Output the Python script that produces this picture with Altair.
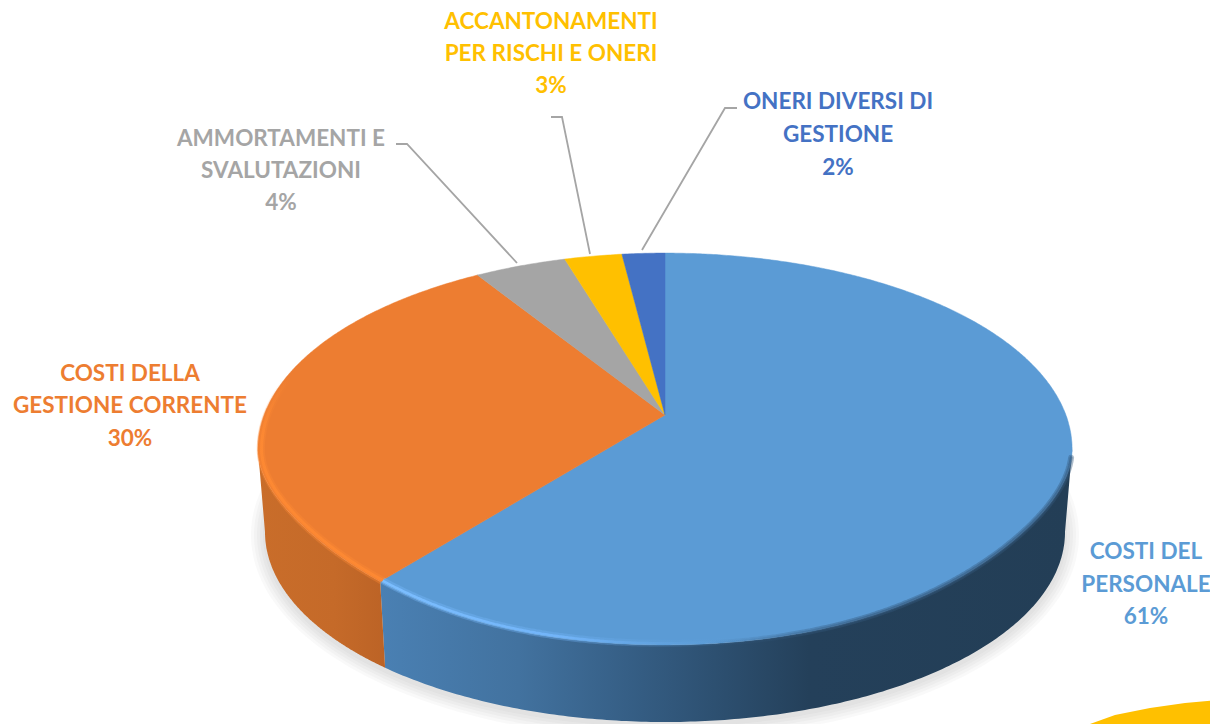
import numpy as np
import altair as alt

# ---- data
categories = ["COSTI DEL PERSONALE", "COSTI DELLA GESTIONE CORRENTE", "AMMORTAMENTI E SVALUTAZIONI",
              "ACCANTONAMENTI PER RISCHI E ONERI", "ONERI DIVERSI DI GESTIONE"]
shares = [60.5, 30.49, 4.3, 2.7, 2.01]
colors = ["#5B9BD5", "#ED7D31", "#A5A5A5", "#FFC000", "#4472C4"]
label_lines = [
    ["COSTI DEL", "PERSONALE", "61%"],
    ["COSTI DELLA", "GESTIONE CORRENTE", "30%"],
    ["AMMORTAMENTI E", "SVALUTAZIONI", "4%"],
    ["ACCANTONAMENTI", "PER RISCHI E ONERI", "3%"],
    ["ONERI DIVERSI DI", "GESTIONE", "2%"],
]
label_x = [1146, 130, 281, 551, 838]
label_y = [[552, 585, 617], [374, 406, 439], [139, 171, 203], [22, 54, 86], [102, 135, 168]]
leader_x = [[396, 407, 517], [551, 562, 590], [737, 725, 642]]
leader_y = [[144, 144, 263], [117, 117, 254], [108, 108, 250]]
corner_x = [1090, 1115, 1150, 1185, 1218, 1218, 1090]
corner_y = [724, 715, 708, 703, 700, 724, 724]

# ---- perspective of the disc
CX, CY = 665.0, 415.0
R, S, K = 400.9, 190.0, -0.1735
EY, EA = 449.0, 407.0
BY, BA, BB = 532.0, 400.0, 190.0
FLAT_LEFT, FLAT_RIGHT = 43.0, 35.0


def top(th):
    th = np.radians(th)
    d = 1 - K * np.cos(th)
    x = CX + R * np.sin(th) / d
    y = CY - S * np.cos(th) / d
    n = np.clip((x - CX) / EA, -1, 1)
    flat = np.where(n < 0, FLAT_LEFT, FLAT_RIGHT) * n ** 4 * np.sqrt(1 - n ** 2)
    y = y - np.where(np.cos(th) < K, flat, 0)
    return x, y


def bottom(th):
    x, _ = top(th)
    n = np.clip((x - CX) / EA, -1, 1)
    return CX + n * BA, BY + BB * np.sqrt(1 - n ** 2)


def poly(xs, ys, **props):
    pts = [[round(float(a), 1), round(float(b), 1)] for a, b in zip(xs, ys)]
    if pts[0] != pts[-1]:
        pts.append(pts[0])
    return {"type": "Feature", "properties": props, "geometry": {"type": "Polygon", "coordinates": [pts]}}


def path(xs, ys):
    pts = [[round(float(a), 1), round(float(b), 1)] for a, b in zip(xs, ys)]
    return {"type": "Feature", "properties": {}, "geometry": {"type": "LineString", "coordinates": pts}}


def shape(feat, **mark):
    return alt.Chart(alt.Data(values=[feat])).mark_geoshape(**mark).project(
        type="identity", scale=1, translate=[-8, -8])


def hgrad(stops):
    return alt.Gradient(gradient="linear", x1=0, x2=1, y1=0, y2=0,
                        stops=[alt.GradientStop(offset=o, color=c) for o, c in stops])


def vgrad(stops):
    return alt.Gradient(gradient="linear", x1=0, x2=0, y1=0, y2=1,
                        stops=[alt.GradientStop(offset=o, color=c) for o, c in stops])


edges = np.concatenate([[0], np.cumsum(shares) / 100 * 360])
RIGHT, LEFT = 100.0, 260.0
layers = []

# soft shadow beneath the wall
t = np.linspace(0, 2 * np.pi, 240)
for k in [14, 11, 8, 5, 2]:
    layers.append(shape(poly(CX + (BA + k) * np.sin(t), BY + 3 + (BB + k) * np.cos(t)),
                        fill="#7f7f7f", fillOpacity=0.045, strokeWidth=0))


def wall(a, b, fill):
    th = np.linspace(a, b, 200)
    xt, yt = top(th)
    xb, yb = bottom(th)
    return shape(poly(np.r_[xt, xb[::-1]], np.r_[yt, yb[::-1]]), fill=fill, strokeWidth=0)


layers.append(wall(RIGHT, edges[1], hgrad([(0, "#4A80B3"), (0.2, "#42729F"), (0.38, "#345C82"),
                                           (0.62, "#24405A"), (1, "#233E56")])))
layers.append(wall(edges[1], LEFT, hgrad([(0, "#C96D2A"), (0.6, "#C56A29"), (1, "#BC6326")])))

# top faces
for i, c in enumerate(colors):
    th = np.linspace(edges[i], edges[i + 1], max(8, int(shares[i] * 8)))
    x, y = top(th)
    layers.append(shape(poly(np.r_[CX, x], np.r_[CY, y]), fill=c, stroke=c, strokeWidth=0.5))


def rim(a, b, inset):
    th = np.linspace(a, b, 200)
    x, y = top(th)
    return path(CX + (x - CX) * inset, EY + (y - EY) * inset)


# soft bevel along the front rim
dark = "#34597D"
layers.append(shape(rim(103, 175, 0.999), filled=False, strokeWidth=6, strokeOpacity=0.4, fillOpacity=0,
                    strokeCap="round", stroke=hgrad([(0, "#34597D00"), (0.35, dark), (1, dark)])))
layers.append(shape(rim(103, 175, 0.999), filled=False, strokeWidth=3, strokeOpacity=0.5, fillOpacity=0,
                    strokeCap="round", stroke=hgrad([(0, "#34597D00"), (0.45, dark), (1, dark)])))
layers.append(shape(rim(edges[1], 170, 0.992), filled=False, strokeWidth=7, strokeOpacity=0.35, fillOpacity=0,
                    stroke=hgrad([(0, "#78BBFF"), (0.5, "#72B4F8"), (1, "#5B9BD500")])))
layers.append(shape(rim(edges[1], 170, 0.992), filled=False, strokeWidth=2.5, fillOpacity=0,
                    stroke=hgrad([(0, "#7CBEFF"), (0.5, "#72B4F8"), (1, "#5B9BD500")])))
rim_fade = [(0, "#FF8A3300"), (0.3, "#FF8A33"), (1, "#FF8A33")]
layers.append(shape(rim(edges[1], 282, 0.993), filled=False, strokeWidth=8, strokeOpacity=0.35, fillOpacity=0,
                    stroke=vgrad(rim_fade)))
layers.append(shape(rim(edges[1], 282, 0.991), filled=False, strokeWidth=3, strokeOpacity=0.8, fillOpacity=0,
                    stroke=vgrad(rim_fade)))

# corner decoration
layers.append(shape(poly(corner_x, corner_y), fill="#FFC000", strokeWidth=0))

# leader lines
for xs, ys in zip(leader_x, leader_y):
    layers.append(shape(path(xs, ys), filled=False, stroke="#A5A5A5", strokeWidth=1.8, fillOpacity=0))

# labels
rows = []
for i, lines in enumerate(label_lines):
    for j, line in enumerate(lines):
        rows.append({"text": line, "lon": label_x[i], "lat": label_y[i][j], "cat": categories[i]})

labels = alt.Chart(alt.Data(values=rows)).mark_text(
    font="Lato", fontWeight="bold", fontSize=22.5, align="center", baseline="middle"
).encode(
    longitude="lon:Q", latitude="lat:Q", text="text:N",
    color=alt.Color("cat:N", scale=alt.Scale(domain=categories, range=colors), legend=None),
).project(type="identity", scale=1, translate=[-8, -8])
layers.append(labels)

chart = alt.layer(*layers).properties(width=1202, height=716, padding=0,
                                      background="white").configure_view(stroke=None)
chart.save("out.html", embed_options={"renderer": "svg", "actions": False})
